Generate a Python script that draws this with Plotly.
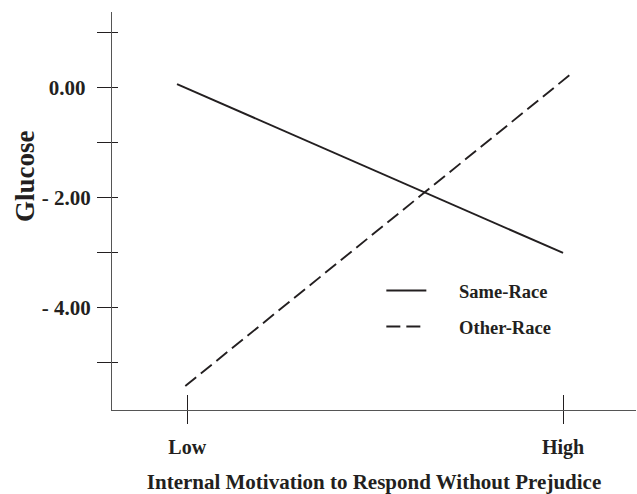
import plotly.graph_objects as go

# ---- data ----
series_names = ["Same-Race", "Other-Race"]
same_x = [-0.027, 1.0]
same_y = [0.07, -3.0]
other_x = [-0.005, 1.024]
other_y = [-5.42, 0.27]

x_tickvals = [0, 1]
x_ticktext = ["Low", "High"]
y_tickvals = [1, 0, -1, -2, -3, -4, -5]
y_ticktext = ["", "0.00\u00a0", "", "- 2.00", "", "- 4.00", ""]
y_title = "Glucose"
x_title = "Internal Motivation to Respond Without Prejudice"

x_range = [-0.2, 1.194]
y_range = [-5.855, 1.38]

INK = "#231f20"
FONT = "Liberation Serif"
PAD = "\u00a0" * 6

fig = go.Figure()
fig.add_trace(go.Scatter(x=same_x, y=same_y, mode="lines", name=PAD + series_names[0],
                         line=dict(color=INK, width=1.9), legendgroup="a"))
fig.add_trace(go.Scatter(x=other_x, y=other_y, mode="lines", name=PAD + series_names[1],
                         line=dict(color=INK, width=1.9, dash="14px,6px"), legendgroup="b"))

fig.update_layout(
    width=637, height=494,
    margin=dict(l=112, r=1, t=12, b=84),
    paper_bgcolor="white", plot_bgcolor="white",
    font=dict(family=FONT, color=INK),
    showlegend=True,
    legend=dict(x=0.514, y=0.254, xanchor="left", yanchor="middle",
                font=dict(family=FONT, size=18.5, color=INK, weight="bold"),
                itemwidth=40, tracegroupgap=9, bgcolor="rgba(0,0,0,0)"),
    xaxis=dict(range=x_range, tickvals=x_tickvals, ticktext=x_ticktext, automargin=False,
               showgrid=False, zeroline=False, showline=True, linecolor="#555", linewidth=1,
               ticks="outside", ticklen=13, tickcolor=INK, tickwidth=1.3,
               tickfont=dict(family=FONT, size=20, color=INK, weight="bold"),
               ticklabelstandoff=6,
               title=dict(text=x_title,
                          font=dict(family=FONT, size=21, color=INK, weight="bold"),
                          standoff=18)),
    xaxis2=dict(range=x_range, tickvals=x_tickvals, overlaying="x", side="bottom",
                showticklabels=False, showgrid=False, zeroline=False, showline=False,
                ticks="inside", ticklen=15, tickcolor=INK, tickwidth=1.3, automargin=False),
    yaxis=dict(range=y_range, tickvals=y_tickvals, ticktext=y_ticktext, automargin=False,
               showgrid=False, zeroline=False, showline=True, linecolor="#555", linewidth=1,
               ticks="outside", ticklen=14, tickcolor=INK, tickwidth=1.3,
               tickfont=dict(family=FONT, size=21, color=INK, weight="bold"),
               ticklabelstandoff=2),
    yaxis2=dict(range=y_range, tickvals=y_tickvals, overlaying="y", side="left",
                showticklabels=False, showgrid=False, zeroline=False, showline=False,
                ticks="inside", ticklen=6, tickcolor=INK, tickwidth=1.3, automargin=False),
    annotations=[dict(text=y_title, textangle=-90, xref="paper", yref="paper",
                      x=-0.166, y=0.588, xanchor="center", yanchor="middle", showarrow=False,
                      font=dict(family=FONT, size=27, color=INK, weight="bold"))],
)
# invisible trace to activate overlay axes
fig.add_trace(go.Scatter(x=[x_range[0]], y=[y_range[0]], xaxis="x2", yaxis="y2",
                         mode="markers", marker=dict(opacity=0), showlegend=False, hoverinfo="skip"))

fig.write_html("out.html", config={"displayModeBar": False},
               post_script="document.body.style.margin='0';document.body.style.overflow='hidden';")
